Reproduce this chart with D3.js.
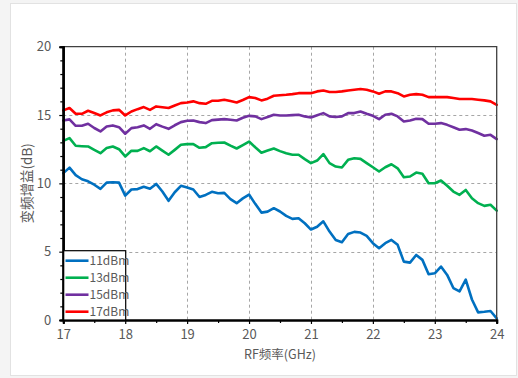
<!DOCTYPE html>
<html>
<head>
<meta charset="utf-8">
<script src="https://cdn.jsdelivr.net/npm/d3@7"></script>
<style>
  html, body { margin: 0; padding: 0; background: #f4f4f4; }
  svg { display: block; }
  text { font-family: "Noto Sans CJK SC", "Noto Sans", sans-serif; fill: #595959; }
</style>
</head>
<body>
<svg id="chart" width="518" height="378"></svg>
<script>
// RF frequency (GHz)
const freq = [
  17.0,17.1,17.2,17.3,17.4,17.5,17.6,17.7,17.8,17.9,
  18.0,18.1,18.2,18.3,18.4,18.5,18.6,18.7,18.8,18.9,
  19.0,19.1,19.2,19.3,19.4,19.5,19.6,19.7,19.8,19.9,
  20.0,20.1,20.2,20.3,20.4,20.5,20.6,20.7,20.8,20.9,
  21.0,21.1,21.2,21.3,21.4,21.5,21.6,21.7,21.8,21.9,
  22.0,22.1,22.2,22.3,22.4,22.5,22.6,22.7,22.8,22.9,
  23.0,23.1,23.2,23.3,23.4,23.5,23.6,23.7,23.8,23.9,24.0
];

// Conversion gain (dB) at each LO drive level
const gain11 = [
  10.75,11.15,10.6,10.3,10.15,9.9,9.6,10.05,10.08,10.05,
  9.1,9.55,9.58,9.75,9.6,9.96,9.4,8.72,9.35,9.82,
  9.7,9.55,9.0,9.15,9.38,9.28,9.3,8.85,8.55,8.9,
  9.18,8.5,7.86,7.93,8.18,7.94,7.62,7.4,7.45,7.08,
  6.62,6.82,7.22,6.47,5.86,5.69,6.3,6.45,6.4,6.15,
  5.62,5.25,5.62,5.86,5.5,4.27,4.2,4.76,4.4,3.35,
  3.42,3.91,3.3,2.34,2.1,2.95,1.5,0.56,0.6,0.66,0.12
];
const gain13 = [
  13.11,13.31,12.75,12.72,12.7,12.45,12.21,12.58,12.7,12.5,
  11.97,12.38,12.38,12.58,12.35,12.7,12.4,12.09,12.45,12.82,
  12.87,12.87,12.6,12.65,12.94,12.97,12.99,12.76,12.55,12.8,
  13.06,12.64,12.24,12.4,12.55,12.36,12.2,12.09,12.09,11.77,
  11.48,11.67,12.14,11.48,11.23,11.16,11.72,11.84,11.79,11.48,
  11.18,10.87,11.18,11.4,11.1,10.45,10.5,10.79,10.7,10.01,
  10.01,10.21,9.82,9.4,9.16,9.52,8.91,8.55,8.35,8.43,8.0
];
const gain15 = [
  14.6,14.68,14.21,14.21,14.36,14.05,13.8,14.16,14.24,14.11,
  13.63,14.04,14.11,14.24,13.99,14.33,14.15,13.99,14.25,14.48,
  14.58,14.6,14.48,14.41,14.63,14.66,14.7,14.65,14.6,14.8,
  14.94,14.9,14.7,14.85,15.02,14.97,14.97,14.99,15.02,14.9,
  14.82,14.99,15.14,14.9,14.85,14.9,15.14,15.14,15.26,15.09,
  14.94,14.7,15.02,15.09,14.9,14.53,14.6,14.73,14.7,14.36,
  14.36,14.41,14.28,14.11,13.92,13.97,13.87,13.68,13.48,13.55,13.24
];
const gain17 = [
  15.34,15.51,15.09,15.09,15.31,15.15,14.97,15.2,15.34,15.38,
  14.97,15.26,15.43,15.58,15.38,15.63,15.57,15.51,15.7,15.87,
  15.92,16.0,15.87,15.82,16.04,16.04,16.12,16.02,15.92,16.1,
  16.31,16.24,16.07,16.2,16.41,16.45,16.48,16.53,16.6,16.6,
  16.6,16.73,16.8,16.68,16.68,16.73,16.8,16.85,16.9,16.85,
  16.73,16.56,16.73,16.73,16.6,16.36,16.48,16.53,16.48,16.31,
  16.31,16.31,16.31,16.24,16.17,16.17,16.17,16.12,16.07,16.0,15.75
];

const seriesNames = ["11dBm", "13dBm", "15dBm", "17dBm"];
const seriesColors = ["#0070C0", "#00B050", "#7030A0", "#FF0000"];
const seriesValues = [gain11, gain13, gain15, gain17];

const xTicks = [17, 18, 19, 20, 21, 22, 23, 24];
const yTicks = [0, 5, 10, 15, 20];
const xLabel = "RF频率(GHz)";
const yLabel = "变频增益(dB)";

const svg = d3.select("#chart");
const plot = { left: 63.3, right: 496.7, top: 46.7, bottom: 320 };

// card background
svg.append("rect").attr("x", 10.5).attr("y", 3.5).attr("width", 506).attr("height", 372)
  .attr("fill", "#fff").attr("stroke", "#e2e2e2");

const x = d3.scaleLinear().domain([17, 24]).range([plot.left, plot.right]);
const y = d3.scaleLinear().domain([0, 20]).range([plot.bottom, plot.top]);

// dashed grid
const grid = svg.append("g").attr("stroke", "#a6a6a6").attr("stroke-dasharray", "3,3").attr("stroke-width", 1);
grid.selectAll("line.gx").data(xTicks.slice(1, -1)).join("line")
  .attr("x1", d => Math.round(x(d)) + 0.5).attr("x2", d => Math.round(x(d)) + 0.5)
  .attr("y1", plot.top).attr("y2", plot.bottom);
grid.selectAll("line.gy").data(yTicks.slice(1, -1)).join("line")
  .attr("x1", plot.left).attr("x2", plot.right)
  .attr("y1", d => Math.round(y(d)) + 0.5).attr("y2", d => Math.round(y(d)) + 0.5);

// series lines
const line = d3.line().x((d, i) => x(freq[i])).y(d => y(d));
svg.append("g").selectAll("path").data(seriesValues).join("path")
  .attr("d", d => line(d))
  .attr("fill", "none")
  .attr("stroke", (d, i) => seriesColors[i])
  .attr("stroke-width", 2.6)
  .attr("stroke-linejoin", "round")
  .attr("stroke-linecap", "round");

// plot frame (top and right)
svg.append("path")
  .attr("d", `M${plot.left},${plot.top}H${plot.right}V${plot.bottom}`)
  .attr("fill", "none").attr("stroke", "#404040").attr("stroke-width", 1.3);

// axes
const xAxis = d3.axisBottom(x).tickValues(xTicks).tickSize(4).tickPadding(6).tickFormat(d3.format("d"));
const xMinor = d3.axisBottom(x).tickValues(d3.range(17.5, 24, 1)).tickSize(3).tickFormat("");
const yAxis = d3.axisLeft(y).tickValues(yTicks).tickSize(4).tickPadding(8).tickFormat(d3.format("d"));
const yMinor = d3.axisLeft(y).tickValues(d3.range(0, 20, 1).filter(v => v % 5 !== 0)).tickSize(3).tickFormat("");

function styleAxis(g) {
  g.selectAll(".domain").attr("stroke", "#000").attr("stroke-width", 2);
  g.selectAll(".tick line").attr("stroke", "#000").attr("stroke-width", 1.2);
  g.selectAll(".tick text").attr("font-size", 13).attr("fill", "#666")
    .attr("font-family", "'Noto Sans', sans-serif");
}
svg.append("g").attr("transform", `translate(0,${plot.bottom})`).call(xMinor).call(styleAxis);
svg.append("g").attr("transform", `translate(0,${plot.bottom})`).call(xAxis).call(styleAxis);
svg.append("g").attr("transform", `translate(${plot.left},0)`).call(yMinor).call(styleAxis);
svg.append("g").attr("transform", `translate(${plot.left},0)`).call(yAxis).call(styleAxis);

// axis titles
svg.append("text").attr("x", (plot.left + plot.right) / 2).attr("y", 359)
  .attr("text-anchor", "middle").attr("font-size", 12.5).text(xLabel);
svg.append("text").attr("transform", `translate(32,${(plot.top + plot.bottom) / 2}) rotate(-90)`)
  .attr("text-anchor", "middle").attr("font-size", 13.5).text(yLabel);

// legend
const lg = svg.append("g");
lg.append("rect").attr("x", plot.left).attr("y", 250.7).attr("width", 62.4).attr("height", plot.bottom - 250.7)
  .attr("fill", "#fff").attr("stroke", "#000").attr("stroke-width", 1.2);
const rows = lg.selectAll("g.row").data(seriesNames).join("g")
  .attr("transform", (d, i) => `translate(0,${260.7 + i * 17})`);
rows.append("line").attr("x1", 65.5).attr("x2", 88.5).attr("y1", 0).attr("y2", 0)
  .attr("stroke", (d, i) => seriesColors[i]).attr("stroke-width", 2.6);
rows.append("text").attr("x", 89.5).attr("y", 0).attr("dy", "0.36em")
  .attr("font-size", 12).attr("font-family", "'Noto Sans', sans-serif")
  .attr("fill", "#595959").text(d => d);

// left axis line drawn over the legend border
svg.append("line").attr("x1", plot.left).attr("x2", plot.left).attr("y1", plot.top).attr("y2", plot.bottom + 1)
  .attr("stroke", "#000").attr("stroke-width", 2);
</script>
</body>
</html>
